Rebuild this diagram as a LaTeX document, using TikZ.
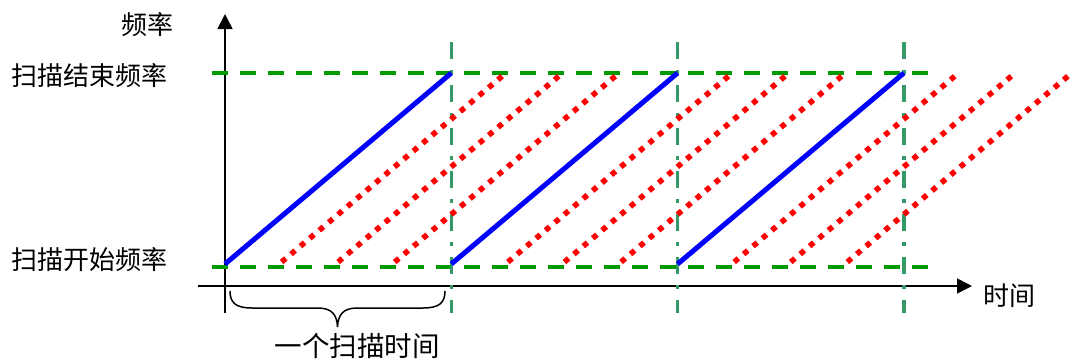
\documentclass[tikz,border=0pt]{standalone}
\usepackage{fontspec}
\newfontfamily\cjk{Noto Sans CJK SC}
\usetikzlibrary{arrows.meta}
\definecolor{hgreen}{RGB}{0,153,0}
\definecolor{vgreen}{RGB}{51,153,102}
\begin{document}
\begin{tikzpicture}[x=1pt,y=-1pt,
  axis/.style={line width=1.6pt, black, -{Triangle[length=15pt,width=15pt]}},
  hdash/.style={hgreen, line width=3.3pt, dash pattern=on 16pt off 12pt},
  vdash/.style={vgreen, line width=3.3pt, dash pattern=on 17pt off 11pt on 4pt off 11pt},
  sweep/.style={blue, line width=5pt},
  ghost/.style={red, line width=5.5pt, dash pattern=on 5.5pt off 6.8pt},
  lbl/.style={font=\cjk\fontsize{26}{30}\selectfont, inner sep=0pt, anchor=base},
  brace/.style={black, line width=1.5pt}]
\useasboundingbox (0,0) rectangle (1070,360);
\clip (0,0) rectangle (1070,360);
% axes
\coordinate (xs) at (198,286);
\coordinate (xe) at (972,286);
\coordinate (ys) at (225,313);
\coordinate (ye) at (225,14);
\draw[axis] (xs) -- (xe);
\draw[axis] (ys) -- (ye);
% horizontal dashed limits
\coordinate (t0) at (212,73);
\coordinate (t1) at (928,73);
\coordinate (b0) at (212,267);
\coordinate (b1) at (928,267);
\draw[hdash] (t0) -- (t1);
\draw[hdash] (b0) -- (b1);
% vertical dash-dot lines
\foreach \i in {1,2,3} {
  \pgfmathsetmacro{\vx}{225+\i*226.3}
  \coordinate (v\i a) at (\vx,42);
  \coordinate (v\i b) at (\vx,313);
  \draw[vdash] (v\i a) -- (v\i b);
}
% sweeps
\foreach \i in {0,1,2} {
  \pgfmathsetmacro{\bx}{225+\i*226.3}
  \pgfmathsetmacro{\tx}{\bx+226.3}
  \coordinate (s\i a) at (\bx,264);
  \coordinate (s\i b) at (\tx,73);
  \draw[sweep] (s\i a) -- (s\i b);
  \foreach \k in {1,2,3} {
    \pgfmathsetmacro{\rx}{\bx+\k*56.575}
    \pgfmathsetmacro{\rt}{\rx+222}
    \coordinate (r\i\k a) at (\rx,262);
    \coordinate (r\i\k b) at (\rt,75);
    \draw[ghost] (r\i\k a) -- (r\i\k b);
  }
}
% brace
\draw[brace] (230,291) .. controls (230,303) and (236,308) .. (252,308) -- (318,308)
  .. controls (332,308) and (337,315) .. (337.5,327)
  .. controls (338,315) and (343,308) .. (357,308) -- (423,308)
  .. controls (439,308) and (445,303) .. (445,291);
% labels
\node[lbl] (ylab) at (147,34) {频率};
\node[lbl] (toplab) at (89.5,85) {扫描结束频率};
\node[lbl] (botlab) at (89.5,269) {扫描开始频率};
\node[lbl] (xlab) at (1009,305) {时间};
\node[lbl, font=\cjk\fontsize{27.5}{30}\selectfont] (brlab) at (357,356.5) {一个扫描时间};
\end{tikzpicture}
\end{document}
